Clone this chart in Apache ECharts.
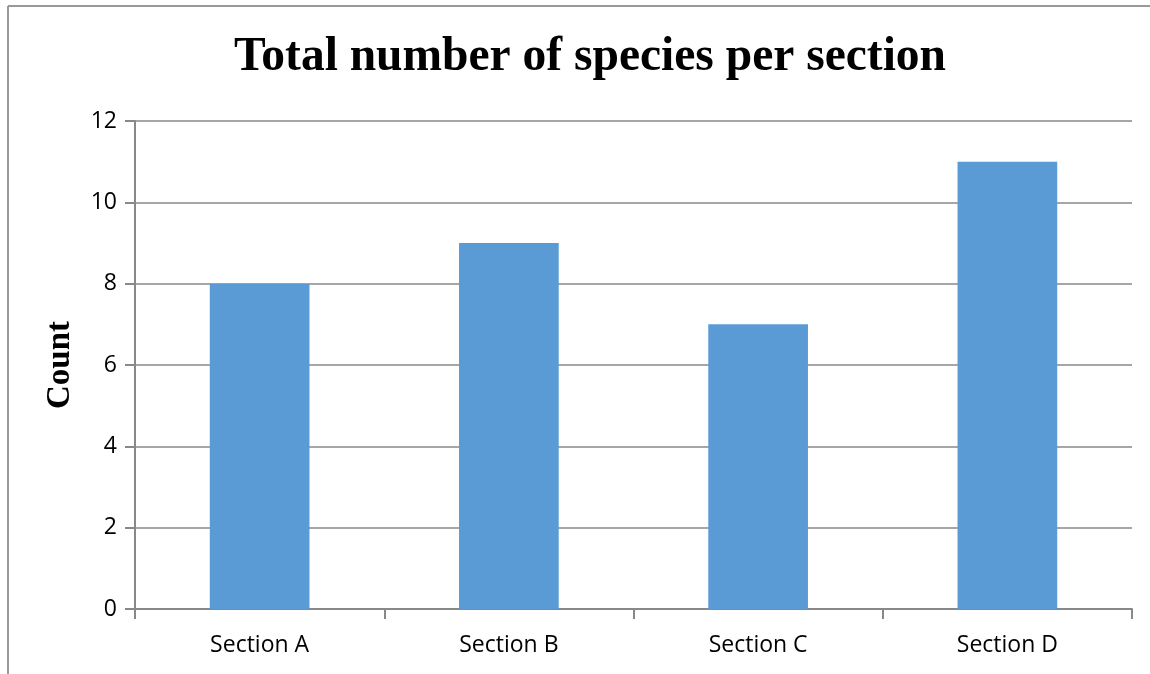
<!DOCTYPE html>
<html>
<head>
<meta charset="utf-8">
<script src="https://cdn.jsdelivr.net/npm/echarts@6/dist/echarts.min.js"></script>
<style>
  html, body { margin: 0; padding: 0; background: #fff; }
  #chart { width: 1150px; height: 674px; }
</style>
</head>
<body>
<div id="chart"></div>
<script>
// Species counts per section
const categories = ['Section A', 'Section B', 'Section C', 'Section D'];
const speciesCount = [8, 9, 7, 11];

const chart = echarts.init(document.getElementById('chart'));
const axisGray = '#888888';
const labelFont = '"Open Sans", "Noto Sans", sans-serif';
const serifFont = '"Liberation Serif", "Times New Roman", serif';

chart.setOption({
  animation: false,
  backgroundColor: '#ffffff',
  title: {
    text: 'Total number of species per section',
    left: 585,
    textAlign: 'center',
    top: 29,
    textStyle: { fontFamily: serifFont, fontWeight: 'bold', fontSize: 47.5, color: '#000' }
  },
  graphic: [
    { type: 'line', shape: { x1: 8, y1: 6, x2: 8, y2: 674 }, style: { stroke: '#999', lineWidth: 2 } },
    { type: 'line', shape: { x1: 8, y1: 6, x2: 1150, y2: 6 }, style: { stroke: '#999', lineWidth: 2 } }
  ],
  grid: { left: 135, right: 18, top: 121, bottom: 65 },
  xAxis: {
    type: 'category',
    data: categories,
    axisLine: { lineStyle: { color: axisGray, width: 2 } },
    axisTick: { show: true, length: 10, alignWithLabel: false, lineStyle: { color: axisGray, width: 2 } },
    axisLabel: { fontFamily: labelFont, fontSize: 23, color: '#000', margin: 25 }
  },
  yAxis: {
    type: 'value',
    min: 0,
    max: 12,
    interval: 2,
    name: 'Count',
    nameLocation: 'middle',
    nameGap: 58,
    nameRotate: 90,
    nameTextStyle: { fontFamily: serifFont, fontWeight: 'bold', fontSize: 33, color: '#000' },
    axisLine: { show: true, lineStyle: { color: axisGray, width: 2 } },
    axisTick: { show: true, length: 10, lineStyle: { color: axisGray, width: 2 } },
    axisLabel: { fontFamily: labelFont, fontSize: 23, color: '#000', margin: 18 },
    splitLine: { lineStyle: { color: axisGray, width: 1.5 } }
  },
  series: [{
    type: 'bar',
    data: speciesCount,
    barWidth: '40%',
    itemStyle: { color: '#5B9BD5' }
  }]
});
</script>
</body>
</html>
